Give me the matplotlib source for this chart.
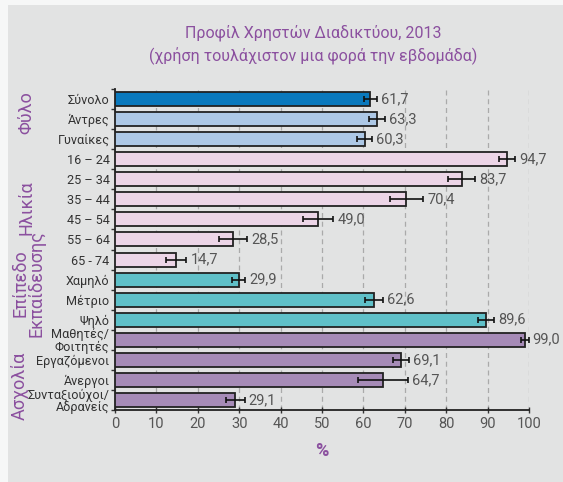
import matplotlib.pyplot as plt
from matplotlib.patches import Rectangle

plt.rcParams['font.family'] = ['Roboto', 'DejaVu Sans']

# rows, top to bottom
categories = ['Σύνολο', 'Άντρες', 'Γυναίκες',
              '16 – 24', '25 – 34', '35 – 44', '45 – 54', '55 – 64', '65 - 74',
              'Χαμηλό', 'Μέτριο', 'Ψηλό',
              'Μαθητές/\nΦοιτητές', 'Εργαζόμενοι', 'Άνεργοι', 'Συνταξιούχοι/\nΑδρανείς']
values = [61.7, 63.3, 60.3,
          94.7, 83.7, 70.4, 49.0, 28.5, 14.7,
          29.9, 62.6, 89.6,
          99.0, 69.1, 64.7, 29.1]
errors = [1.6, 2.0, 1.8,
          1.9, 3.2, 4.0, 3.7, 3.4, 2.5,
          1.6, 2.2, 2.0,
          0.9, 2.0, 6.1, 2.2]
labels = ['61,7', '63,3', '60,3', '94,7', '83,7', '70,4', '49,0', '28,5', '14,7',
          '29,9', '62,6', '89,6', '99,0', '69,1', '64,7', '29,1']
groups = ['Φύλο', 'Ηλικία', 'Επίπεδο\nΕκπαίδευσης', 'Ασχολία']

bar_colors = ['#0a79bd', '#adc8e6', '#adc8e6'] + ['#ecd5e7'] * 6 + ['#5fc0c8'] * 3 + ['#a68bb7'] * 4

purple = '#8b509f'
panel = '#e2e3e3'

fig = plt.figure(figsize=(5.63, 4.82), dpi=100)
fig.patch.set_facecolor('#f6f7f7')
fig.patches.append(Rectangle((8 / 563, 0), 1, 1 - 5 / 482, transform=fig.transFigure,
                             facecolor=panel, edgecolor='none', zorder=-5))

ax = fig.add_axes([115 / 563, 1 - 410 / 482, 414 / 563, 321 / 482])
ax.set_zorder(2)
ax.set_facecolor(panel)

n = len(categories)
ypos = list(range(n))
ax.barh(ypos, values, height=0.7, color=bar_colors, edgecolor='#222222', linewidth=1.3, zorder=3)
ax.errorbar(values, ypos, xerr=errors, fmt='none', ecolor='#111111', elinewidth=1.2,
            capsize=2.5, capthick=1.2, zorder=4)
for y, v, e, t in zip(ypos, values, errors, labels):
    ax.text(v + e + 1.0, y, t, va='center', ha='left', fontsize=10.5, color='#555555', zorder=5)

ax.set_xlim(0, 100)
ax.set_ylim(n - 0.5, -0.5)
ax.set_xticks(range(0, 101, 10))
ax.tick_params(axis='x', direction='inout', length=4, width=1, colors='#333333', labelsize=10.5,
               labelcolor='#555555', pad=3)
ax.set_yticks(ypos)
ax.set_yticklabels(categories, fontsize=9.1, color='#333333', linespacing=0.95)
ax.tick_params(axis='y', length=0, pad=4)
ax.set_yticks([i - 0.5 for i in range(n + 1)], minor=True)
ax.tick_params(axis='y', which='minor', length=3, width=1, direction='out', color='#333333')
ax.xaxis.grid(True, linestyle=(0, (4, 3)), color='#aaaaaa', linewidth=0.9, zorder=0)
ax.set_axisbelow(True)
for s in ['top', 'right']:
    ax.spines[s].set_visible(False)
for s in ['left', 'bottom']:
    ax.spines[s].set_linewidth(1.3)
    ax.spines[s].set_color('#222222')

ax.set_xlabel('%', fontsize=13, color=purple, fontweight='bold', labelpad=8)

# group labels on the left (x in data units, row of their centre)
group_x = [-21.3, -21.3, -20.8, -23.0]
group_rows = [0.7, 5.4, 9.2, 14.3]
for g, gx, r in zip(groups, group_x, group_rows):
    ax.text(gx, r, g, rotation=90, ha='center', va='center', fontsize=13,
            color=purple, linespacing=0.85)

fig.text(0.557, 0.907, 'Προφίλ Χρηστών Διαδικτύου, 2013\n(χρήση τουλάχιστον μια φορά την εβδομάδα)',
         ha='center', va='center', fontsize=11.5, color=purple, linespacing=1.4)

fig.savefig('out.png', dpi=100, facecolor=fig.get_facecolor())
